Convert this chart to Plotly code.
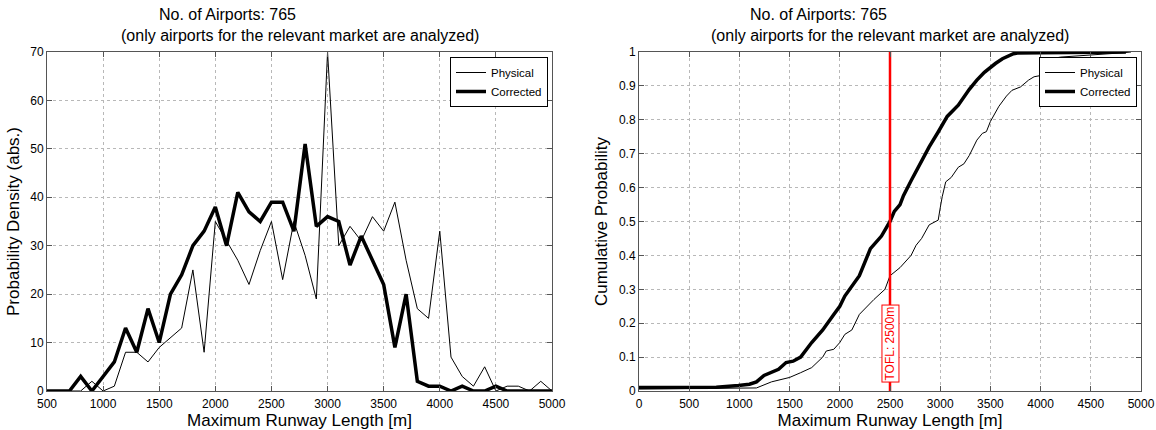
import plotly.graph_objects as go

# ---- histogram of maximum runway length (left panel) ----
runway_bins = [500, 600, 700, 800, 900, 1000, 1100, 1200, 1300, 1400, 1500,
               1600, 1700, 1800, 1900, 2000, 2100, 2200, 2300, 2400, 2500,
               2600, 2700, 2800, 2900, 3000, 3100, 3200, 3300, 3400, 3500,
               3600, 3700, 3800, 3900, 4000, 4100, 4200, 4300, 4400, 4500,
               4600, 4700, 4800, 4900, 5000]
density_physical = [0, 0, 0, 0, 2, 0, 1, 8, 8, 6, 9,
                    11, 13, 25, 8, 35, 31, 27, 22, 29, 35,
                    23, 35, 28, 19, 70, 30, 34, 31, 36, 33,
                    39, 27, 17, 15, 33, 7, 3, 1, 5, 0,
                    1, 1, 0, 2, 0]
density_corrected = [0, 0, 0, 3, 0, 3, 6, 13, 8, 17, 10,
                     20, 24, 30, 33, 38, 30, 41, 37, 35, 39,
                     39, 33, 51, 34, 36, 35, 26, 32, 27, 22,
                     9, 20, 2, 1, 1, 0, 1, 0, 0, 1,
                     0, 0, 0, 0, 0]

# ---- cumulative distribution (right panel) ----
cdf_physical_x = [0, 1140, 1170, 1320, 1500, 1610, 1720, 1830, 1865, 1940,
                  2000, 2050, 2120, 2195, 2270, 2340, 2450, 2500, 2600, 2710,
                  2760, 2815, 2890, 2980, 3000, 3020, 3055, 3110, 3180, 3236,
                  3290, 3365, 3420, 3460, 3500, 3530, 3585, 3660, 3715, 3800,
                  3880, 3935, 3990, 4000, 4100, 4200, 4315, 4535, 4830, 4900]
cdf_physical_y = [0.006, 0.007, 0.009, 0.027, 0.040, 0.054, 0.069, 0.100, 0.118, 0.123,
                  0.143, 0.167, 0.180, 0.226, 0.250, 0.270, 0.300, 0.340, 0.364, 0.400,
                  0.430, 0.450, 0.490, 0.504, 0.540, 0.573, 0.617, 0.630, 0.660, 0.670,
                  0.695, 0.740, 0.760, 0.765, 0.795, 0.810, 0.840, 0.870, 0.887, 0.897,
                  0.917, 0.927, 0.930, 0.972, 0.980, 0.985, 0.987, 0.992, 0.998, 1.000]
cdf_corrected_x = [0, 770, 990, 1100, 1170, 1245, 1390, 1465, 1535, 1610,
                   1720, 1830, 1940, 2000, 2050, 2120, 2195, 2305, 2415, 2500,
                   2543, 2600, 2634, 2710, 2800, 2890, 2980, 3070, 3180, 3290,
                   3365, 3440, 3550, 3620, 3730, 3770, 4000, 4500, 4850]
cdf_corrected_y = [0.010, 0.011, 0.016, 0.020, 0.027, 0.046, 0.064, 0.084, 0.088, 0.100,
                   0.143, 0.180, 0.226, 0.250, 0.280, 0.310, 0.340, 0.420, 0.457, 0.500,
                   0.530, 0.550, 0.576, 0.620, 0.670, 0.720, 0.764, 0.810, 0.843, 0.890,
                   0.917, 0.940, 0.966, 0.980, 0.995, 0.997, 0.998, 0.999, 1.000]

tofl = 2500
n_airports = 765

FONT = "Liberation Sans, Arial, sans-serif"
AX_COLOR = "#555555"
GRID_COLOR = "#b8b8b8"
W, H = 1156, 430

fig = go.Figure()

fig.add_trace(go.Scatter(x=runway_bins, y=density_physical, name="Physical",
                         mode="lines", line=dict(color="black", width=1),
                         xaxis="x", yaxis="y", legend="legend"))
fig.add_trace(go.Scatter(x=runway_bins, y=density_corrected, name="Corrected",
                         mode="lines", line=dict(color="black", width=3.5),
                         xaxis="x", yaxis="y", legend="legend"))

fig.add_trace(go.Scatter(x=cdf_physical_x, y=cdf_physical_y, name="Physical",
                         mode="lines", line=dict(color="black", width=1),
                         xaxis="x2", yaxis="y2", legend="legend2"))
fig.add_trace(go.Scatter(x=cdf_corrected_x, y=cdf_corrected_y, name="Corrected",
                         mode="lines", line=dict(color="black", width=3.5),
                         xaxis="x2", yaxis="y2", legend="legend2"))

# take-off field length marker
fig.add_trace(go.Scatter(x=[tofl, tofl], y=[0, 1], mode="lines",
                         line=dict(color="#ff0000", width=2.5),
                         showlegend=False, xaxis="x2", yaxis="y2"))

axis_common = dict(
    showline=True, linecolor=AX_COLOR, linewidth=1, mirror="allticks",
    ticks="inside", ticklen=5, tickcolor=AX_COLOR, automargin=False,
    showgrid=True, gridcolor=GRID_COLOR, griddash="dot", gridwidth=1,
    zeroline=False, tickfont=dict(family=FONT, size=12, color="black"),
    title_font=dict(family=FONT, size=17, color="black"),
)

L0, L1 = 47 / W, 552 / W
R0, R1 = 639 / W, 1141 / W
B, T = (H - 391) / H, (H - 52) / H

fig.update_layout(
    width=W, height=H,
    margin=dict(l=0, r=0, t=0, b=0, autoexpand=False),
    paper_bgcolor="white", plot_bgcolor="white",
    font=dict(family=FONT, color="black"),
    xaxis=dict(domain=[L0, L1], range=[500, 5000], tickvals=list(range(500, 5001, 500)),
               anchor="y", ticklabelstandoff=2,
               title=dict(text="Maximum Runway Length [m]", standoff=3),
               **axis_common),
    yaxis=dict(domain=[B, T], range=[0, 70], tickvals=list(range(0, 71, 10)),
               anchor="x", title=dict(text="Probability Density (abs.)", standoff=6),
               **axis_common),
    xaxis2=dict(domain=[R0, R1], range=[0, 5000], tickvals=list(range(0, 5001, 500)),
                anchor="y2", ticklabelstandoff=2,
                title=dict(text="Maximum Runway Length [m]", standoff=3),
                **axis_common),
    yaxis2=dict(domain=[B, T], range=[0, 1], tickvals=[i / 10 for i in range(11)],
                ticktext=["0"] + [f"0.{i}" for i in range(1, 10)] + ["1"],
                anchor="x2", title=dict(text="Cumulative Probability", standoff=6),
                **axis_common),
    legend=dict(x=548 / W, y=(H - 57) / H, xanchor="right", yanchor="top",
                bgcolor="white", bordercolor="black", borderwidth=1,
                font=dict(family=FONT, size=11.5, color="black"),
                itemwidth=30, tracegroupgap=0),
    legend2=dict(x=1137 / W, y=(H - 57) / H, xanchor="right", yanchor="top",
                 bgcolor="white", bordercolor="black", borderwidth=1,
                 font=dict(family=FONT, size=11.5, color="black"),
                 itemwidth=30, tracegroupgap=0),
    showlegend=True,
)

# two-line panel titles
title_font = dict(family=FONT, size=16, color="black")
for cx in [(47 + 552) / 2, (639 + 1141) / 2]:
    fig.add_annotation(text=f"No. of Airports: {n_airports}", xref="paper", yref="paper",
                       x=(cx - 72) / W, y=(H - 15) / H, showarrow=False,
                       xanchor="center", yanchor="middle", font=title_font)
    fig.add_annotation(text="(only airports for the relevant market are analyzed)",
                       xref="paper", yref="paper", x=cx / W, y=(H - 36) / H,
                       showarrow=False, xanchor="center", yanchor="middle", font=title_font)

fig.add_annotation(text=f"TOFL: {tofl}m", x=tofl, y=0.14, xref="x2", yref="y2",
                   showarrow=False, textangle=-90, font=dict(family=FONT, size=12, color="#ff0000"),
                   bgcolor="white", bordercolor="#ff0000", borderwidth=1, borderpad=1)

fig.write_html("out.html")
